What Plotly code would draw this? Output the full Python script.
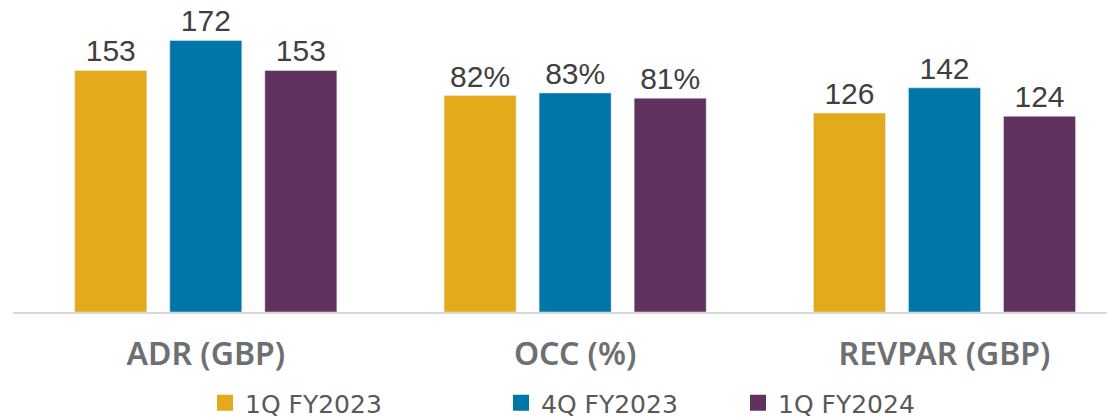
import plotly.graph_objects as go

# Data
categories = ['ADR (GBP)', 'OCC (%)', 'REVPAR (GBP)']
periods = ['1Q FY2023', '4Q FY2023', '1Q FY2024']
adr = [153, 172, 153]
occ = [82, 83, 81]
revpar = [126, 142, 124]

COLORS = ['#E3AB1B', '#0076A8', '#62325F']
NUM_FONT = dict(family='Liberation Sans, Arial, sans-serif', size=30, color='#404040')
CAT_FONT = dict(family='Noto Sans, sans-serif', size=32, color='#6E6F73', weight=600)
LEG_FONT = dict(family='DejaVu Sans, sans-serif', size=25, color='#595959')

# legend left edges (px, container) for each period
LEGEND_X = [205, 501, 738]

fig = go.Figure()

for i, period in enumerate(periods):
    # GBP metrics on the primary axis
    fig.add_trace(go.Bar(
        x=[categories[0], categories[2]],
        y=[adr[i], revpar[i]],
        marker_color=COLORS[i],
        texttemplate='%{y}',
        textposition='outside',
        textfont=NUM_FONT,
        cliponaxis=False,
        showlegend=False,
        hoverinfo='skip',
        offsetgroup=str(i),
        yaxis='y',
    ))
    # occupancy on its own scale
    fig.add_trace(go.Bar(
        x=[categories[1]],
        y=[occ[i]],
        marker_color=COLORS[i],
        texttemplate='%{y}%',
        textposition='outside',
        textfont=NUM_FONT,
        cliponaxis=False,
        showlegend=False,
        hoverinfo='skip',
        offsetgroup=str(i),
        yaxis='y2',
    ))
    # legend-only entry
    fig.add_trace(go.Scatter(
        x=[None], y=[None],
        mode='markers',
        marker=dict(symbol='square', size=16, color=COLORS[i]),
        name=period,
        legend='legend' if i == 0 else f'legend{i + 1}',
        showlegend=True,
        hoverinfo='skip',
    ))

legends = {}
for i in range(3):
    key = 'legend' if i == 0 else f'legend{i + 1}'
    legends[key] = dict(
        orientation='h',
        xref='container', yref='container',
        x=LEGEND_X[i] / 1107, y=1 - 403 / 418,
        xanchor='left', yanchor='middle',
        font=LEG_FONT,
        bgcolor='rgba(0,0,0,0)',
        itemclick=False, itemdoubleclick=False,
    )

fig.update_layout(
    width=1107,
    height=418,
    margin=dict(l=13, r=0, t=10, b=106),
    paper_bgcolor='white',
    plot_bgcolor='white',
    barmode='group',
    bargap=0.228,
    bargroupgap=0.242,
    xaxis=dict(
        type='category',
        categoryorder='array',
        categoryarray=categories,
        range=[-0.522, 2.440],
        showline=True,
        linecolor='#D9D9D9',
        linewidth=1.5,
        showgrid=False,
        ticks='outside',
        ticklen=13,
        tickcolor='rgba(0,0,0,0)',
        tickfont=CAT_FONT,
        fixedrange=True,
    ),
    yaxis=dict(range=[0, 191.3], visible=False, fixedrange=True),
    yaxis2=dict(range=[0, 114.4], overlaying='y', visible=False, fixedrange=True),
    **legends,
)

fig.write_html(
    'out.html',
    config={'displayModeBar': False},
    post_script="document.body.style.margin='0';",
)
